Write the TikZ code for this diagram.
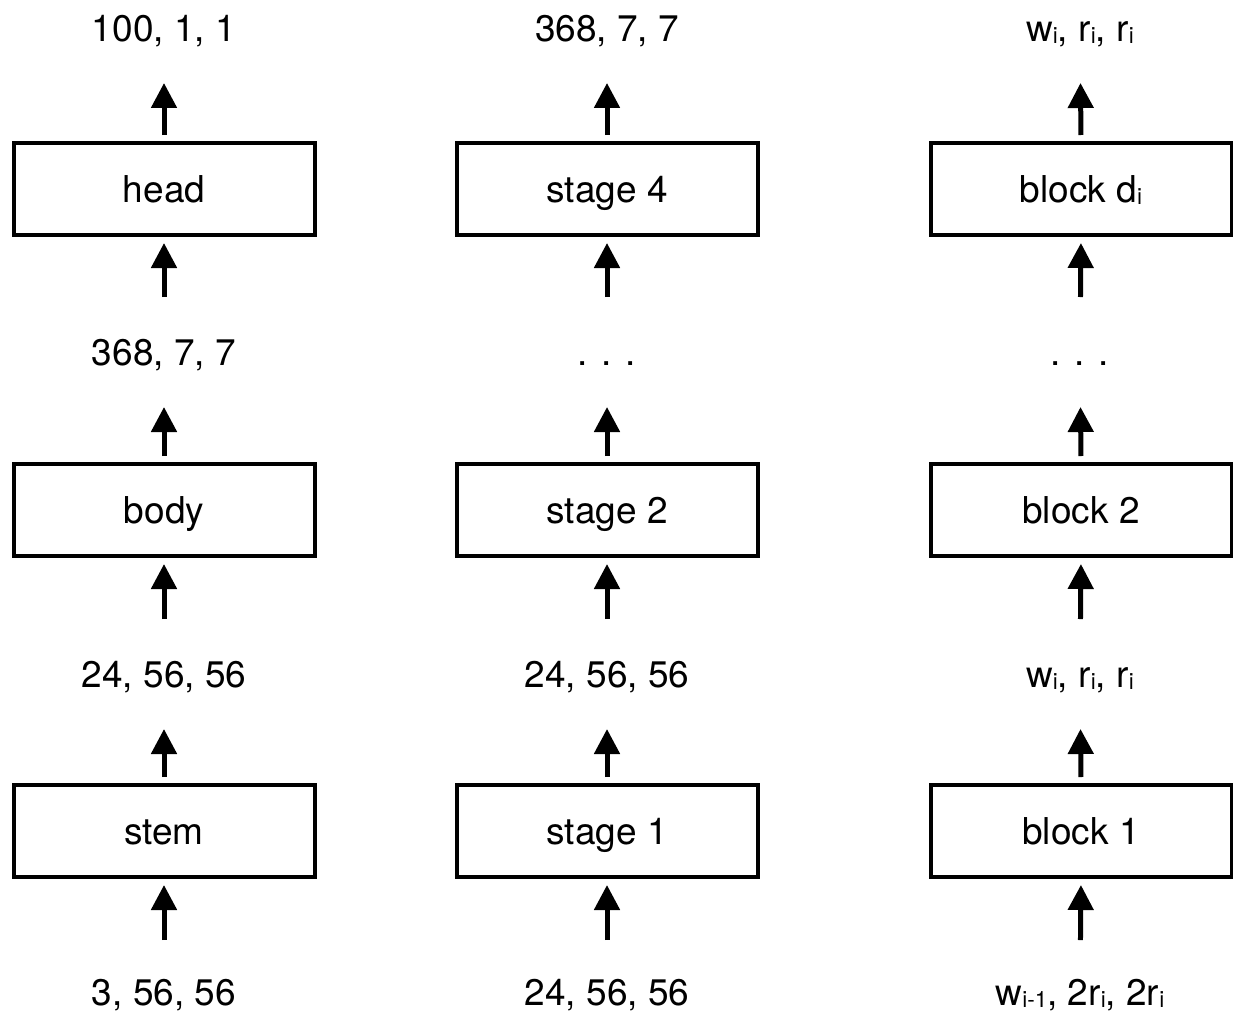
\documentclass[tikz,border=0pt]{standalone}
\usepackage{fontspec}
\setmainfont{TeX Gyre Heros}
\usetikzlibrary{arrows.meta}
% small lowered index letters
\newcommand\ssub[1]{\raisebox{-2pt}{\fontsize{22.5}{22.5}\selectfont #1}}
\tikzset{
  txt/.style={font=\fontsize{37}{40}\selectfont},
  box/.style={txt, draw, line width=4pt, minimum width=301pt, minimum height=92pt, inner sep=0pt,
    text height=27pt, text depth=0pt},
  lbl/.style={txt, inner sep=0pt, outer sep=0pt, text height=27pt, text depth=0pt},
  arr/.style={line width=5pt, -{Triangle[width=25pt,length=25pt]}},
  up/.style={arr, shorten <=6pt, shorten >=55pt},
  into/.style={arr, shorten <=55pt, shorten >=6pt},
  intolow/.style={arr, shorten <=52pt, shorten >=6pt}
}
\begin{document}
\begin{tikzpicture}[x=1pt,y=-1pt]
\useasboundingbox (0,0) rectangle (1233,1014);

% column 1: network
\node[lbl] (a4) at (164,28) {100, 1, 1};
\node[box] (ah) at (164,189) {head};
\node[lbl] (a3) at (164,352) {368, 7, 7};
\node[box] (ab) at (164,510) {body};
\node[lbl] (a2) at (164,674) {24, 56, 56};
\node[box] (as) at (164,831) {stem};
\node[lbl] (a1) at (164,992) {3, 56, 56};

% column 2: body
\node[lbl] (b4) at (607,28) {368, 7, 7};
\node[box] (bh) at (607,189) {stage 4};
\node[lbl] (b3) at (607,352) {. . .};
\node[box] (bb) at (607,510) {stage 2};
\node[lbl] (b2) at (607,674) {24, 56, 56};
\node[box] (bs) at (607,831) {stage 1};
\node[lbl] (b1) at (607,992) {24, 56, 56};

% column 3: stage
\node[lbl] (c4) at (1080,28) {w\ssub{i}, r\ssub{i}, r\ssub{i}};
\node[box] (ch) at (1081,189) {block d\ssub{i}};
\node[lbl] (c3) at (1080,352) {. . .};
\node[box] (cb) at (1081,510) {block 2};
\node[lbl] (c2) at (1080,674) {w\ssub{i}, r\ssub{i}, r\ssub{i}};
\node[box] (cs) at (1081,831) {block 1};
\node[lbl] (c1) at (1080,992) {w\ssub{i-1}, 2r\ssub{i}, 2r\ssub{i}};

% connectors
\foreach \c in {a,b,c}{
  \draw[intolow] (\c1.center) -- (\c s.south);
  \draw[up]   (\c s.north) -- (\c2.center);
  \draw[into] (\c2.center) -- (\c b.south);
  \draw[up]   (\c b.north) -- (\c3.center);
  \draw[into] (\c3.center) -- (\c h.south);
  \draw[up]   (\c h.north) -- (\c4.center);
}
\end{tikzpicture}
\end{document}
